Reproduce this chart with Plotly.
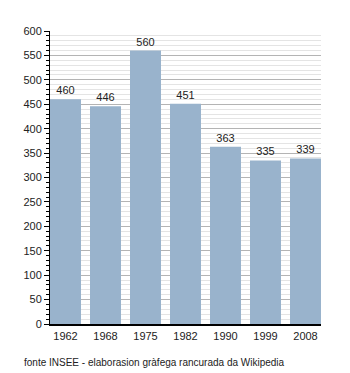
import plotly.graph_objects as go

years = ["1962", "1968", "1975", "1982", "1990", "1999", "2008"]
population = [460, 446, 560, 451, 363, 335, 339]
footer = "fonte INSEE - elaborasion gràfega rancurada da Wikipedia"

bar_w = 0.775
fig = go.Figure(go.Bar(
    x=list(range(len(years))), y=population, width=bar_w,
    marker=dict(color="#99b3cc", line=dict(width=0)),
    text=[str(v) for v in population], textposition="outside",
    textfont=dict(family="Liberation Sans, Arial, sans-serif", size=11, color="#222"),
    cliponaxis=False,
))

fig.update_layout(
    width=350, height=373,
    margin=dict(l=50, r=29, t=31, b=49),
    paper_bgcolor="white", plot_bgcolor="white",
    showlegend=False,
    font=dict(family="Liberation Sans, Arial, sans-serif", size=11, color="#222"),
    xaxis=dict(
        tickmode="array", tickvals=list(range(len(years))), ticktext=years,
        range=[-bar_w / 2, len(years) - 1 + bar_w / 2],
        showgrid=False, zeroline=False,
        showline=True, linecolor="black", linewidth=1.5,
        ticks="", ticklabelstandoff=1, tickfont=dict(size=11, color="#222"),
    ),
    yaxis=dict(
        range=[0, 600], tickmode="linear", tick0=0, dtick=50,
        showgrid=True, gridcolor="#b4b4b4", gridwidth=1,
        zeroline=False,
        showline=True, linecolor="black", linewidth=1,
        ticks="outside", ticklen=5, tickcolor="black", tickwidth=1,
        tickfont=dict(size=11, color="#222"),
        minor=dict(dtick=10, showgrid=True, gridcolor="#e4e4e4", gridwidth=1,
                   ticks="outside", ticklen=3, tickcolor="black"),
    ),
    annotations=[dict(
        text=footer, xref="paper", yref="paper",
        x=-0.103, y=-0.13, xanchor="left", yanchor="middle",
        showarrow=False, font=dict(size=10, color="#222"),
    )],
)

fig.write_html("out.html")
